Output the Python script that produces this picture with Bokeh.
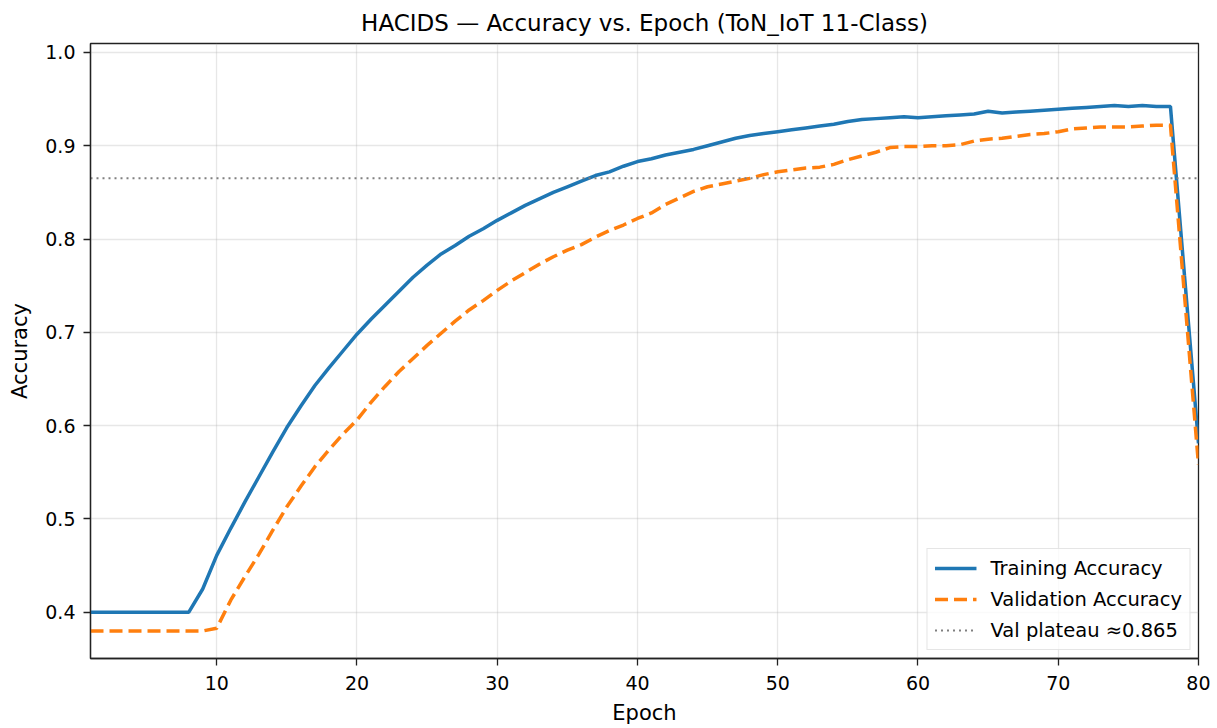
from bokeh.plotting import figure
from bokeh.models import Range1d, FixedTicker, Legend, LegendItem, PrintfTickFormatter
from bokeh.embed import file_html
from bokeh.resources import INLINE

# ---------------- data ----------------
epochs = list(range(1, 81))

train_acc = [
    0.400, 0.400, 0.400, 0.400, 0.400, 0.400, 0.400, 0.400, 0.425, 0.461,
    0.490, 0.518, 0.545, 0.572, 0.598, 0.621, 0.643, 0.662, 0.680, 0.698,
    0.714, 0.729, 0.744, 0.759, 0.772, 0.784, 0.793, 0.803, 0.811, 0.820,
    0.828, 0.836, 0.843, 0.850, 0.856, 0.862, 0.868, 0.872, 0.878, 0.883,
    0.886, 0.890, 0.893, 0.896, 0.900, 0.904, 0.908, 0.911, 0.913, 0.915,
    0.917, 0.919, 0.921, 0.923, 0.926, 0.928, 0.929, 0.930, 0.931, 0.930,
    0.931, 0.932, 0.933, 0.934, 0.937, 0.935, 0.936, 0.937, 0.938, 0.939,
    0.940, 0.941, 0.942, 0.943, 0.942, 0.943, 0.942, 0.942, 0.761, 0.581,
]

val_acc = [
    0.380, 0.380, 0.380, 0.380, 0.380, 0.380, 0.380, 0.380, 0.380, 0.383,
    0.413, 0.438, 0.462, 0.488, 0.513, 0.535, 0.556, 0.574, 0.591, 0.606,
    0.625, 0.642, 0.658, 0.672, 0.686, 0.699, 0.712, 0.724, 0.734, 0.745,
    0.755, 0.764, 0.773, 0.781, 0.788, 0.794, 0.802, 0.809, 0.815, 0.822,
    0.828, 0.837, 0.844, 0.851, 0.856, 0.859, 0.862, 0.865, 0.869, 0.872,
    0.874, 0.876, 0.877, 0.880, 0.885, 0.889, 0.893, 0.898, 0.899, 0.899,
    0.900, 0.900, 0.901, 0.905, 0.907, 0.908, 0.910, 0.912, 0.913, 0.915,
    0.918, 0.919, 0.920, 0.920, 0.920, 0.921, 0.922, 0.922, 0.740, 0.558,
]

val_plateau = 0.865

x_ticks = [10, 20, 30, 40, 50, 60, 70, 80]
y_ticks = [0.4, 0.5, 0.6, 0.7, 0.8, 0.9, 1.0]

title_text = "HACIDS \u2014 Accuracy vs. Epoch (ToN_IoT 11-Class)"
labels = ["Training Accuracy", "Validation Accuracy", "Val plateau \u22480.865"]

# ---------------- figure ----------------
FONT = "DejaVu Sans"

p = figure(
    frame_width=1108, frame_height=615,
    min_border_left=90, min_border_right=12, min_border_top=43, min_border_bottom=62,
    x_range=Range1d(epochs[0], epochs[-1]),
    y_range=Range1d(0.3505, 1.0095),
    output_backend="svg", toolbar_location=None,
    background_fill_color="white", border_fill_color="white",
)

p.title.text = title_text
p.title.align = "center"
p.title.text_font = FONT
p.title.text_font_size = "23px"
p.title.text_font_style = "normal"
p.title.text_color = "#000000"
p.title.standoff = 15

p.outline_line_color = "#222222"
p.outline_line_width = 1.3
p.outline_line_alpha = 1.0

for ax, lab, ticks in ((p.xaxis[0], "Epoch", x_ticks), (p.yaxis[0], "Accuracy", y_ticks)):
    ax.axis_label = lab
    ax.ticker = FixedTicker(ticks=ticks)
    ax.axis_label_text_font = FONT
    ax.axis_label_text_font_size = "21px"
    ax.axis_label_text_font_style = "normal"
    ax.axis_label_text_color = "#000000"
    ax.major_label_text_font = FONT
    ax.major_label_text_font_size = "19px"
    ax.major_label_text_color = "#000000"
    ax.major_tick_out = 7
    ax.major_tick_in = 0
    ax.major_tick_line_color = "#222222"
    ax.major_tick_line_width = 1.3
    ax.minor_tick_line_color = None
    ax.axis_line_color = "#222222"
    ax.axis_line_width = 1.3

p.yaxis[0].formatter = PrintfTickFormatter(format="%.1f")
p.xaxis[0].major_label_standoff = 10
p.xaxis[0].axis_label_standoff = 8
p.yaxis[0].major_label_standoff = 8
p.yaxis[0].axis_label_standoff = 10

p.xgrid[0].ticker = FixedTicker(ticks=x_ticks)
p.ygrid[0].ticker = FixedTicker(ticks=y_ticks)
for g in (p.xgrid[0], p.ygrid[0]):
    g.grid_line_color = "#b0b0b0"
    g.grid_line_alpha = 0.3
    g.grid_line_width = 1.3

r_train = p.line(epochs, train_acc, line_color="#1f77b4", line_width=3.5)
r_val = p.line(epochs, val_acc, line_color="#ff7f0e", line_width=3.5, line_dash="13 6")
r_plat = p.line([epochs[0], epochs[-1]], [val_plateau, val_plateau],
                line_color="#808080", line_width=2, line_dash="2 4")

legend = Legend(
    items=[LegendItem(label=labels[0], renderers=[r_train]),
           LegendItem(label=labels[1], renderers=[r_val]),
           LegendItem(label=labels[2], renderers=[r_plat])],
    location="bottom_right",
    label_text_font=FONT, label_text_font_size="19.5px", label_text_color="#000000",
    glyph_width=42, glyph_height=24, label_height=24, label_standoff=14,
    spacing=7, padding=7, margin=8,
    border_line_color="#cccccc", border_line_width=1.2,
    background_fill_color="white", background_fill_alpha=0.8,
)
p.add_layout(legend, "center")

open("out.html", "w").write(file_html(p, INLINE))
